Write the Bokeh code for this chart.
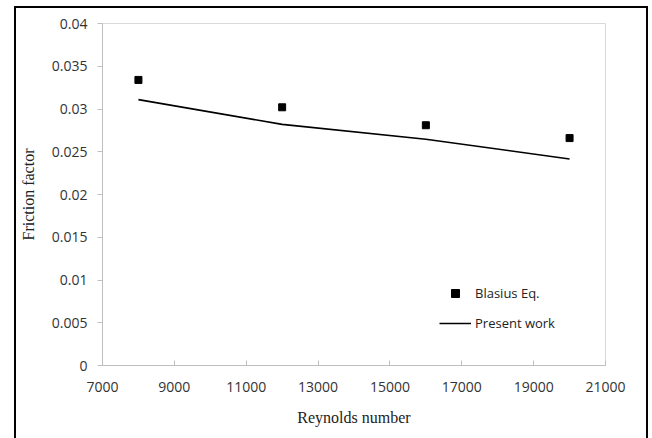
from bokeh.plotting import figure
from bokeh.models import FixedTicker, Legend, LegendItem
from bokeh.embed import file_html
from bokeh.resources import INLINE

reynolds = [8000, 12000, 16000, 20000]
blasius = [0.0334, 0.0302, 0.0281, 0.0266]
present_work = [0.0311, 0.0282, 0.02647, 0.02416]

x_ticks = [7000, 9000, 11000, 13000, 15000, 17000, 19000, 21000]
y_ticks = [0, 0.005, 0.01, 0.015, 0.02, 0.025, 0.03, 0.035, 0.04]
y_labels = ["0", "0.005", "0.01", "0.015", "0.02", "0.025", "0.03", "0.035", "0.04"]

# canvas sits inside a 2px black border, like the outer chart box of the original
p = figure(width=630, height=435, output_backend="svg", toolbar_location=None,
           x_range=(7000, 21000), y_range=(0, 0.04),
           min_border_left=86, min_border_right=45, min_border_top=15, min_border_bottom=82)
p.margin = (6, 0, 0, 14)
p.styles = {"border": "2px solid black", "box-sizing": "content-box"}
p.background_fill_color = "white"
p.border_fill_color = "white"
p.outline_line_color = "#d9d9d9"
p.outline_line_width = 1
p.xgrid.visible = False
p.ygrid.visible = False

tick_font = "Open Sans"
for ax in (p.xaxis[0], p.yaxis[0]):
    ax.axis_line_color = "#bfbfbf"
    ax.major_tick_line_color = "#bfbfbf"
    ax.minor_tick_line_color = None
    ax.major_label_text_font = tick_font
    ax.major_label_text_font_size = "14px"
    ax.major_label_text_color = "#333333"
    ax.axis_label_text_font = "Liberation Serif"
    ax.axis_label_text_font_size = "16px"
    ax.axis_label_text_font_style = "normal"
    ax.axis_label_text_color = "#222222"

p.xaxis.ticker = FixedTicker(ticks=x_ticks)
p.xaxis.major_tick_in = 5
p.xaxis.major_tick_out = 0
p.xaxis.major_label_standoff = 16
p.xaxis.axis_label = "Reynolds number"
p.xaxis.axis_label_standoff = 14

p.yaxis.ticker = FixedTicker(ticks=y_ticks)
p.yaxis.major_label_overrides = {t: l for t, l in zip(y_ticks, y_labels)}
p.yaxis.major_tick_in = 0
p.yaxis.major_tick_out = 5
p.yaxis.major_label_standoff = 10
p.yaxis.axis_label = "Friction factor"
p.yaxis.axis_label_standoff = 12

r_line = p.line(reynolds, present_work, line_color="black", line_width=1.6)
r_sq = p.scatter(reynolds, blasius, marker="square", size=7, fill_color="black", line_color="black")

legend = Legend(items=[LegendItem(label="Blasius Eq.", renderers=[r_sq]),
                       LegendItem(label="Present work", renderers=[r_line])],
                location=(337, 32), padding=0, margin=0, spacing=10,
                glyph_width=32, glyph_height=20, label_standoff=4,
                border_line_color=None, background_fill_alpha=0,
                label_text_font=tick_font, label_text_font_size="13px",
                label_text_color="#222222")
p.add_layout(legend)

open("out.html", "w").write(file_html(p, INLINE))
